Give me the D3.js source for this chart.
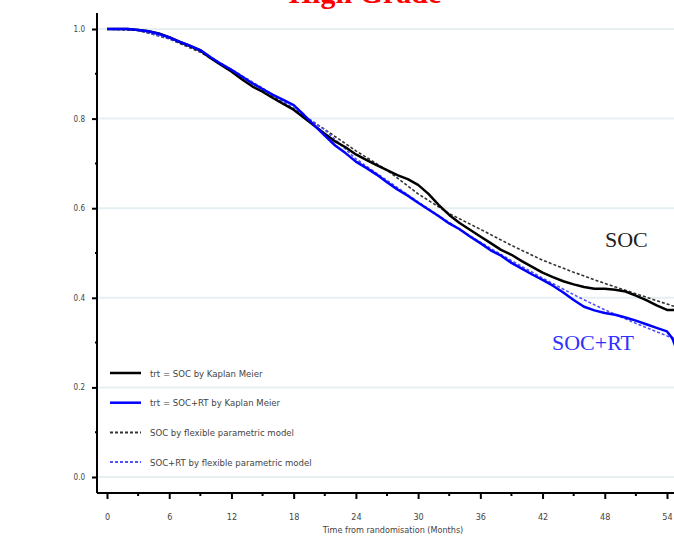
<!DOCTYPE html>
<html>
<head>
<meta charset="utf-8">
<script src="https://cdn.jsdelivr.net/npm/d3@7"></script>
<style>
  body { margin: 0; background: #fff; }
  svg { display: block; }
</style>
</head>
<body>
<div id="chart"></div>
<script>
// months and survival
var soc_km_t   = [0, 2, 3, 4, 5, 6, 7, 8, 9, 10, 11, 12, 13, 14, 15, 16, 17, 18, 19, 20, 21, 22, 23, 24, 25, 26, 27, 28, 29, 30, 31, 32, 33, 34, 35, 36, 37, 38, 39, 40, 41, 42, 43, 44, 45, 46, 47, 48, 49, 50, 51, 52, 53, 54, 54.7]
var soc_km_s   = [1.0, 1.0, 0.998, 0.995, 0.99, 0.982, 0.971, 0.962, 0.952, 0.935, 0.92, 0.905, 0.888, 0.872, 0.86, 0.846, 0.833, 0.82, 0.802, 0.784, 0.766, 0.749, 0.736, 0.72, 0.708, 0.696, 0.685, 0.674, 0.665, 0.652, 0.632, 0.607, 0.585, 0.567, 0.552, 0.537, 0.522, 0.507, 0.496, 0.482, 0.469, 0.456, 0.446, 0.437, 0.43, 0.424, 0.42, 0.42, 0.418, 0.414, 0.405, 0.395, 0.383, 0.373, 0.373]

var socrt_km_t = [0, 2, 3, 4, 5, 6, 7, 8, 9, 10, 11, 12, 13, 14, 15, 16, 17, 18, 19, 20, 21, 22, 23, 24, 25, 26, 27, 28, 29, 30, 31, 32, 33, 34, 35, 36, 37, 38, 39, 40, 41, 42, 43, 44, 45, 46, 47, 48, 49, 50, 51, 52, 53, 54, 54.5, 54.8]
var socrt_km_s = [1.0, 1.0, 0.998, 0.995, 0.989, 0.981, 0.972, 0.963, 0.953, 0.937, 0.922, 0.909, 0.894, 0.879, 0.866, 0.853, 0.842, 0.83, 0.808, 0.785, 0.762, 0.74, 0.723, 0.704, 0.69, 0.675, 0.658, 0.642, 0.628, 0.612, 0.597, 0.582, 0.566, 0.553, 0.537, 0.522, 0.506, 0.494, 0.478, 0.465, 0.452, 0.44, 0.427, 0.412, 0.395, 0.38, 0.372, 0.366, 0.362, 0.356, 0.349, 0.341, 0.333, 0.325, 0.31, 0.292]

var fpm_t       = [0, 3, 6, 9, 12, 15, 18, 21, 24, 27, 30, 33, 36, 39, 42, 45, 48, 51, 54, 54.7]
var soc_fpm_s   = [1.0, 0.997, 0.978, 0.948, 0.908, 0.865, 0.82, 0.776, 0.728, 0.685, 0.632, 0.588, 0.553, 0.517, 0.484, 0.457, 0.432, 0.409, 0.386, 0.381]
var socrt_fpm_s = [1.0, 0.997, 0.979, 0.95, 0.91, 0.868, 0.823, 0.775, 0.71, 0.662, 0.614, 0.568, 0.524, 0.483, 0.444, 0.407, 0.373, 0.343, 0.315, 0.309]

var x_ticks = [0, 6, 12, 18, 24, 30, 36, 42, 48, 54]
var y_ticks = [0.0, 0.2, 0.4, 0.6, 0.8, 1.0]

var legend_labels = ["trt = SOC by Kaplan Meier", "trt = SOC+RT by Kaplan Meier", "SOC by flexible parametric model", "SOC+RT by flexible parametric model"]

var width = 674, height = 537
var small_font = "'Liberation Sans Narrow', 'DejaVu Sans Condensed', sans-serif"

var svg = d3.select("#chart").append("svg")
    .attr("width", width)
    .attr("height", height)

var x = d3.scaleLinear().domain([0, 54]).range([107, 667])
var y = d3.scaleLinear().domain([0, 1]).range([477, 29])

var axis_x = 97, axis_y = 493

// title, only its lower part fits in the frame
svg.append("text")
    .attr("x", 365).attr("y", 3)
    .attr("text-anchor", "middle")
    .attr("font-family", "'Liberation Serif', serif")
    .attr("font-weight", "bold")
    .attr("font-size", 30)
    .attr("fill", "#ff0000")
    .text("High Grade")

// light gridlines at major y ticks
svg.append("g").selectAll("line")
    .data(y_ticks)
    .enter().append("line")
    .attr("x1", axis_x).attr("x2", width)
    .attr("y1", function (d) { return y(d) })
    .attr("y2", function (d) { return y(d) })
    .attr("stroke", "#e6eff2")
    .attr("stroke-width", 2)

// y axis
var y_axis = svg.append("g")
    .attr("transform", `translate(${axis_x}, 0)`)
    .call(d3.axisLeft(y).tickValues(y_ticks).tickFormat(d3.format(".1f")).tickSize(5).tickPadding(7))
y_axis.select(".domain").attr("d", `M0,13V${axis_y}`).attr("stroke-width", 2)
y_axis.selectAll(".tick line").attr("stroke-width", 2)
y_axis.selectAll("text").attr("font-family", small_font).attr("font-size", 8).attr("fill", "#444")
y_axis.selectAll(".minor")
    .data([0.1, 0.3, 0.5, 0.7, 0.9])
    .enter().append("line")
    .attr("class", "minor")
    .attr("x1", -2).attr("x2", 0)
    .attr("y1", function (d) { return y(d) })
    .attr("y2", function (d) { return y(d) })
    .attr("stroke", "#000").attr("stroke-width", 2)

// x axis
var x_axis = svg.append("g")
    .attr("transform", `translate(0, ${axis_y})`)
    .call(d3.axisBottom(x).tickValues(x_ticks).tickSize(6).tickPadding(15))
x_axis.select(".domain").attr("d", `M${axis_x},0H${width}`).attr("stroke-width", 2)
x_axis.selectAll(".tick line").attr("stroke-width", 2)
x_axis.selectAll("text").attr("font-family", small_font).attr("font-size", 9).attr("fill", "#444")
x_axis.selectAll(".minor")
    .data([3, 9, 15, 21, 27, 33, 39, 45, 51])
    .enter().append("line")
    .attr("class", "minor")
    .attr("x1", function (d) { return x(d) })
    .attr("x2", function (d) { return x(d) })
    .attr("y1", 0).attr("y2", 3)
    .attr("stroke", "#000").attr("stroke-width", 2)

svg.append("text")
    .attr("x", 393).attr("y", 533)
    .attr("text-anchor", "middle")
    .attr("font-family", small_font)
    .attr("font-size", 9)
    .attr("fill", "#444")
    .text("Time from randomisation (Months)")

// the four curves
function series(t, s) {
    return t.map(function (d, i) { return { "t": d, "s": s[i] } })
}

var curve_line = d3.line()
    .x(function (d) { return x(d.t) })
    .y(function (d) { return y(d.s) })

var curves = [
    { "data": series(fpm_t, soc_fpm_s), "color": "#333", "dash": "3,2", "w": 1.6 },
    { "data": series(fpm_t, socrt_fpm_s), "color": "#5050ff", "dash": "3,2", "w": 1.6 },
    { "data": series(soc_km_t, soc_km_s), "color": "#000", "dash": null, "w": 2.5 },
    { "data": series(socrt_km_t, socrt_km_s), "color": "#0000ff", "dash": null, "w": 2.5 }
]

svg.append("g").selectAll("path")
    .data(curves)
    .enter().append("path")
    .attr("d", function (d) { return curve_line(d.data) })
    .attr("fill", "none")
    .attr("stroke", function (d) { return d.color })
    .attr("stroke-width", function (d) { return d.w })
    .attr("stroke-dasharray", function (d) { return d.dash })
    .attr("stroke-linejoin", "round")

// legend
var legend_styles = [
    { "color": "#000", "dash": null, "w": 2.5 },
    { "color": "#0000ff", "dash": null, "w": 2.5 },
    { "color": "#333", "dash": "3,2", "w": 2 },
    { "color": "#5050ff", "dash": "3,2", "w": 2 }
]
var legend = svg.append("g").selectAll("g")
    .data(legend_labels)
    .enter().append("g")
    .attr("transform", function (d, i) { return `translate(110, ${373 + i * 29.7})` })
legend.append("line")
    .attr("x1", 0).attr("x2", 31)
    .attr("stroke", function (d, i) { return legend_styles[i].color })
    .attr("stroke-width", function (d, i) { return legend_styles[i].w })
    .attr("stroke-dasharray", function (d, i) { return legend_styles[i].dash })
legend.append("text")
    .attr("x", 40).attr("y", 3.5)
    .attr("font-family", small_font)
    .attr("font-size", 9.5)
    .attr("fill", "#444")
    .text(function (d) { return d })

// curve labels
svg.append("text")
    .attr("x", 605).attr("y", 247)
    .attr("font-family", "'Liberation Serif', serif")
    .attr("font-size", 22)
    .attr("fill", "#222")
    .text("SOC")
svg.append("text")
    .attr("x", 552).attr("y", 350)
    .attr("font-family", "'Liberation Serif', serif")
    .attr("font-size", 22)
    .attr("fill", "#3030ff")
    .text("SOC+RT")
</script>
</body>
</html>
